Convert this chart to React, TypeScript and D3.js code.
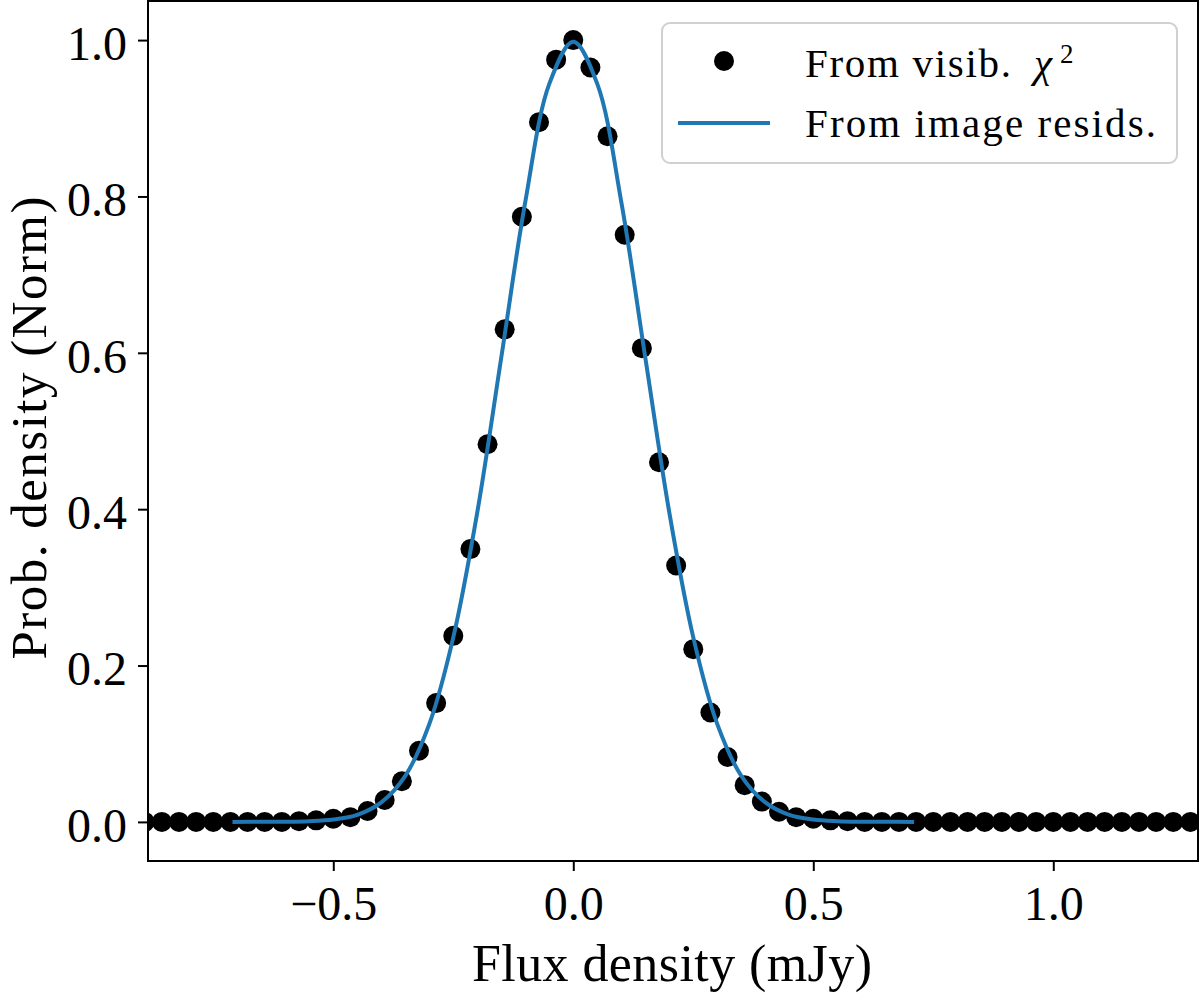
import * as d3 from 'd3';
import React, { useEffect, useRef } from 'react';

// dots: "From visib. chi^2"
const visibX: number[] = [
    -0.8929, -0.8571, -0.8214, -0.7857, -0.75, -0.7143, -0.6786, -0.6429, -0.6071,
    -0.5714, -0.5357, -0.5, -0.4643, -0.4286, -0.3929, -0.3571, -0.3214, -0.2857,
    -0.25, -0.2143, -0.1786, -0.1429, -0.1071, -0.0714, -0.0357, 0,
    0.0357, 0.0714, 0.1071, 0.1429, 0.1786, 0.2143, 0.25, 0.2857, 0.3214, 0.3571,
    0.3929, 0.4286, 0.4643, 0.5, 0.5357, 0.5714, 0.6071, 0.6429, 0.6786, 0.7143,
    0.75, 0.7857, 0.8214, 0.8571, 0.8929, 0.9286, 0.9643, 1.0, 1.0357, 1.0714,
    1.1071, 1.1429, 1.1786, 1.2143, 1.25, 1.2857, 1.3214,
];
const visibY: number[] = [
    0, 0, 0, 0, 0, 0, 0, 0, 0,
    0.001, 0.002, 0.004, 0.006, 0.014, 0.028, 0.052, 0.091, 0.152,
    0.238, 0.349, 0.483, 0.630, 0.774, 0.895, 0.975, 1.0,
    0.965, 0.877, 0.751, 0.606, 0.460, 0.328, 0.221, 0.140, 0.083, 0.047,
    0.026, 0.013, 0.006, 0.004, 0.002, 0.001, 0, 0, 0, 0,
    0, 0, 0, 0, 0, 0, 0, 0, 0, 0,
    0, 0, 0, 0, 0, 0, 0,
];

// line: "From image resids."
const residX: number[] = [
    -0.71, -0.65, -0.6, -0.55, -0.5, -0.45, -0.4, -0.35, -0.3, -0.25, -0.2, -0.15, -0.1, -0.05,
    0, 0.05, 0.1, 0.15, 0.2, 0.25, 0.3, 0.35, 0.4, 0.45, 0.5, 0.55, 0.6, 0.65, 0.71,
];
const residY: number[] = [
    0, 0.0001, 0.0002, 0.0009, 0.003, 0.009, 0.025, 0.059, 0.125, 0.236, 0.396, 0.594, 0.793, 0.944,
    0.998, 0.944, 0.793, 0.594, 0.396, 0.236, 0.125, 0.059, 0.025, 0.009, 0.003, 0.0009, 0.0002, 0.0001, 0,
];

const xTicks: number[] = [-0.5, 0, 0.5, 1.0];
const xTickLabels: string[] = ['\u22120.5', '0.0', '0.5', '1.0'];
const yTicks: number[] = [0, 0.2, 0.4, 0.6, 0.8, 1.0];
const yTickLabels: string[] = ['0.0', '0.2', '0.4', '0.6', '0.8', '1.0'];

const BLUE = '#1f77b4';
const FONT = '"Liberation Serif", "DejaVu Serif", serif';

export default () => {
    const ref = useRef<any>();

    useEffect(() => {
        const width = 1200;
        const height = 993;
        const dims = { left: 148, right: 1198, top: 1, bottom: 861 };

        const svg = d3.select<any, any>(ref.current)
            .attr('width', width)
            .attr('height', height);
        svg.selectAll('*').remove();

        svg.append('rect').attr('width', width).attr('height', height).attr('fill', 'white');

        const xScale = d3.scaleLinear().domain([-0.886, 1.3015]).range([dims.left, dims.right]);
        const yScale = d3.scaleLinear().domain([-0.05, 1.05]).range([dims.bottom, dims.top]);

        svg.append('clipPath').attr('id', 'plot-clip')
            .append('rect')
            .attr('x', dims.left).attr('y', dims.top)
            .attr('width', dims.right - dims.left).attr('height', dims.bottom - dims.top);

        const plot = svg.append('g').attr('clip-path', 'url(#plot-clip)');

        // dots
        plot.selectAll('.dot').data(visibX).join('circle')
            .attr('class', 'dot')
            .attr('cx', (d) => xScale(d))
            .attr('cy', (d, i) => yScale(visibY[i]))
            .attr('r', 10)
            .attr('fill', 'black');

        // line on top
        const line = d3.line<number>()
            .x((d) => xScale(d))
            .y((d, i) => yScale(residY[i]))
            .curve(d3.curveCatmullRom);
        plot.append('path')
            .attr('d', line(residX))
            .attr('fill', 'none')
            .attr('stroke', BLUE)
            .attr('stroke-width', 4)
            .attr('stroke-linecap', 'butt');

        // axes
        const xAxis = d3.axisBottom(xScale)
            .tickValues(xTicks)
            .tickSize(10)
            .tickPadding(15)
            .tickFormat((d, i) => xTickLabels[i]);
        const yAxis = d3.axisLeft(yScale)
            .tickValues(yTicks)
            .tickSize(10)
            .tickPadding(11)
            .tickFormat((d, i) => yTickLabels[i]);

        const gx = svg.append('g').attr('transform', `translate(0, ${dims.bottom})`).call(xAxis);
        const gy = svg.append('g').attr('transform', `translate(${dims.left}, 0)`).call(yAxis);

        [gx, gy].forEach((g) => {
            g.select('.domain').remove();
            g.selectAll('.tick line').attr('stroke', 'black').attr('stroke-width', 2);
            g.selectAll('.tick text')
                .attr('fill', 'black')
                .style('font-family', FONT)
                .style('font-size', '48px');
        });
        gy.selectAll('.tick text').attr('dy', '0.4em');

        // frame
        svg.append('rect')
            .attr('x', dims.left).attr('y', dims.top)
            .attr('width', dims.right - dims.left).attr('height', dims.bottom - dims.top)
            .attr('fill', 'none')
            .attr('stroke', 'black')
            .attr('stroke-width', 2);

        // axis labels
        svg.append('text')
            .attr('x', (dims.left + dims.right) / 2 - 1)
            .attr('y', 981)
            .attr('text-anchor', 'middle')
            .attr('textLength', 400)
            .attr('lengthAdjust', 'spacing')
            .style('font-family', FONT)
            .style('font-size', '52px')
            .text('Flux density (mJy)');

        svg.append('text')
            .attr('transform', `translate(46, 428) rotate(-90)`)
            .attr('text-anchor', 'middle')
            .attr('textLength', 463)
            .attr('lengthAdjust', 'spacing')
            .style('font-family', FONT)
            .style('font-size', '51px')
            .text('Prob. density (Norm)');

        // legend
        const legend = svg.append('g');
        legend.append('rect')
            .attr('x', 662).attr('y', 23)
            .attr('width', 515).attr('height', 140)
            .attr('rx', 8)
            .attr('fill', 'white').attr('fill-opacity', 0.8)
            .attr('stroke', '#d0d0d0').attr('stroke-width', 2);

        legend.append('circle').attr('cx', 724).attr('cy', 61).attr('r', 10).attr('fill', 'black');
        legend.append('line')
            .attr('x1', 678).attr('x2', 770)
            .attr('y1', 123).attr('y2', 123)
            .attr('stroke', BLUE).attr('stroke-width', 4);

        const lt = legend.append('g').style('font-family', FONT).style('font-size', '41px');
        lt.append('text').attr('x', 805).attr('y', 77)
            .attr('textLength', 206).attr('lengthAdjust', 'spacing')
            .text('From visib.');
        lt.append('text').attr('x', 1034).attr('y', 77)
            .style('font-style', 'italic')
            .text('\u03c7');
        lt.append('text').attr('x', 1060).attr('y', 63)
            .style('font-size', '27px')
            .text('2');
        lt.append('text').attr('x', 805).attr('y', 137)
            .attr('textLength', 351).attr('lengthAdjust', 'spacing')
            .text('From image resids.');
    });

    return (
        <React.Fragment>
            <svg ref={ref} style={{ position: 'absolute', left: 0, top: 0 }}></svg>
        </React.Fragment>
    );
};
